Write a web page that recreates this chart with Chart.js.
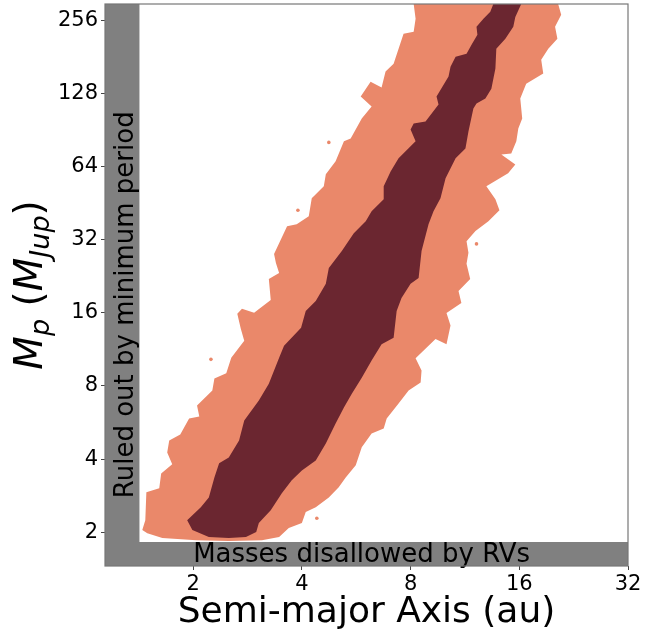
<!DOCTYPE html>
<html>
<head>
<meta charset="utf-8">
<script src="https://cdn.jsdelivr.net/npm/chart.js@4.4.0/dist/chart.umd.min.js"></script>
<style>
  html,body{margin:0;padding:0;background:#fff}
  #wrap{width:668px;height:633px}
</style>
</head>
<body>
<div id="wrap"><canvas id="c" width="668" height="633"></canvas></div>
<script>
// ---------- DATA ----------
const xTicks = [2, 4, 8, 16, 32];
const yTicks = [2, 4, 8, 16, 32, 64, 128, 256];
const xRange = [1.14, 32];
const yRange = [1.45, 300];

// outer (2-sigma) contour: semi-major axis (au) / mass (M_Jup), walked round the outline
const outerA = [1.446,1.474,1.484,1.611,1.631,1.75,1.695,1.717,1.842,1.949,2.08,2.05,2.26,2.29,2.47,2.55,2.77,2.71,2.65,2.73,
  2.95,3.28,3.24,3.46,3.39,3.35,3.64,3.87,4.18,4.26,4.6,4.66,4.96,5.23,5.46,5.86,6.24,5.82,6.2,6.65,6.82,7.18,7.65,8.16,8.26,8.16,
  20.5,20.9,20.1,20.4,19.25,18.4,18.64,16.72,16.1,16.3,15.9,15.7,15.2,14.27,15.6,14.9,12.97,13.74,14.1,13.14,12.1,11.43,11.57,11.43,
  11.7,10.86,11.06,10.06,10.32,10.06,9.38,8.26,8.58,8.53,7.9,7.41,6.87,6.74,6.24,5.86,5.64,5.29,5.06,4.75,4.37,4.1,4.0,3.68,3.46,3.1,
  2.51,2.04,1.643,1.493];
const outerM = [2.04,2.24,2.92,3.03,3.49,3.81,4.26,4.77,5.05,5.88,5.99,6.65,7.66,8.58,9.02,10.46,12.29,13.77,15.87,16.64,
  16.01,18.11,22.08,23.38,25.7,27.97,36.46,37.15,40.07,47.5,53.2,59.6,67.4,81.5,83.8,101.3,113.4,124.7,143.6,135.8,158,170.3,226.2,230.6,260.7,300,
  300,270.8,241.7,215.7,196.3,176.9,155,140.9,122.4,101.3,92.1,81.5,72.7,72,65.5,60.2,53.2,47.1,42.4,38.2,34.8,31.6,28.3,25.5,
  22.1,19.7,17.6,16,14.2,11.9,12.5,10.4,9.26,8.26,7.66,6.77,5.88,5.35,5.1,4.47,3.77,3.36,3.06,2.78,2.53,2.42,2.18,2.08,1.91,1.85,
  1.84,1.85,1.89,1.98];

// inner (1-sigma) contour
const innerA = [1.925,2.10,2.21,2.29,2.36,2.51,2.68,2.77,3.04,3.24,3.46,3.57,3.98,4.10,4.37,4.66,4.75,5.16,5.57,6.01,6.24,6.74,6.74,7.05,
  7.41,8.26,8.0,8.16,8.8,9.56,9.44,10.19,10.32,10.66,11.43,11.8,12.25,12.18,12.73,13.3,13.56,
  16.2,15.6,15.4,14.64,13.82,13.74,13.39,12.89,12.18,11.94,11.57,11.35,10.66,10.0,9.68,9.26,8.97,8.58,8.42,8.0,7.55,7.32,7.18,6.65,
  6.24,5.86,5.5,5.23,4.96,4.66,4.37,4.0,3.75,3.52,3.28,3.04,2.99,2.80,2.51,2.21,1.99];
const innerM = [2.24,2.53,2.78,3.36,3.84,4.06,4.77,5.77,6.97,8.18,10.46,11.72,13.9,16.3,17.9,21.1,24.5,28.8,34.1,38.2,42.0,47.1,53.2,61.3,
  69.4,81.5,91.3,96.6,98.4,115.6,124.7,150.7,165.5,182,187.3,203.8,224.1,241.7,260.7,278.5,300,
  300,265.5,241.7,215.7,196.3,162.5,134.4,122.4,116.7,111.3,89.5,76.2,69.4,57.4,47.5,42.0,37.15,28.8,22.3,21.1,18.45,16.3,12.64,11.9,
  10.18,8.66,7.44,6.52,5.61,4.64,3.95,3.59,3.27,2.89,2.46,2.18,2.0,1.91,1.89,1.91,2.04];

// stray little islands of the outer level
const speckA = [2.24, 3.9, 4.75, 12.18, 4.4];
const speckM = [10.3, 42.4, 80.7, 30.8, 2.28];

// excluded regions
const periodBandA = [1.14, 1.42, 1.42, 1.14];
const periodBandM = [1.45, 1.45, 300, 300];
const rvBandA = [1.14, 32, 32, 1.14];
const rvBandM = [1.45, 1.45, 1.82, 1.82];

const DARK = '#6b2630', SALMON = '#ea886a', GREY = '#808080';
const FONT = '"DejaVu Sans"';

const pts = (A, M) => A.map((a, i) => ({x: a, y: M[i]}));
const shape = (A, M, color) => ({
  data: pts(A, M), showLine: true, fill: 'shape', backgroundColor: color,
  borderColor: 'rgba(0,0,0,0)', borderWidth: 0, pointRadius: 0, tension: 0
});

// ---------- texts + frame ----------
const decor = {
  id: 'decor',
  afterDatasetsDraw(chart) {
    const {ctx, chartArea: ca, scales: {x, y}} = chart;
    ctx.save();
    ctx.fillStyle = '#000';
    ctx.font = '26px ' + FONT;
    ctx.textAlign = 'left';
    ctx.textBaseline = 'alphabetic';
    ctx.fillText('Masses disallowed by RVs', x.getPixelForValue(2), y.getPixelForValue(1.5));
    ctx.save();
    ctx.translate(x.getPixelForValue(1.36), y.getPixelForValue(2.76));
    ctx.rotate(-Math.PI / 2);
    ctx.fillText('Ruled out by minimum period', 0, 0);
    ctx.restore();

    // x title
    ctx.font = '36px ' + FONT;
    ctx.textAlign = 'center';
    ctx.fillText('Semi-major Axis (au)', (ca.left + ca.right) / 2, ca.bottom + 56);

    // y title, M_p (M_Jup)
    const big = 39, sub = 27, drop = 7;
    const runs = [
      {t: 'M', f: `italic ${big}px ${FONT}`, dy: 0},
      {t: 'p', f: `italic ${sub}px ${FONT}`, dy: drop},
      {t: ' (', f: `${big}px ${FONT}`, dy: 0},
      {t: 'M', f: `italic ${big}px ${FONT}`, dy: 0},
      {t: 'Jup', f: `italic ${sub}px ${FONT}`, dy: drop},
      {t: ')', f: `${big}px ${FONT}`, dy: 0}
    ];
    let total = 0;
    runs.forEach(r => { ctx.font = r.f; r.w = ctx.measureText(r.t).width; total += r.w; });
    ctx.translate(42, (ca.top + ca.bottom) / 2);
    ctx.rotate(-Math.PI / 2);
    ctx.textAlign = 'left';
    let px = -total / 2;
    runs.forEach(r => { ctx.font = r.f; ctx.fillText(r.t, px, r.dy); px += r.w; });
    ctx.restore();
  },
  afterDraw(chart) {
    const {ctx, chartArea: ca} = chart;
    ctx.save();
    ctx.strokeStyle = '#777';
    ctx.lineWidth = 1.2;
    ctx.strokeRect(ca.left, ca.top, ca.right - ca.left, ca.bottom - ca.top);
    ctx.restore();
  }
};

new Chart(document.getElementById('c'), {
  type: 'line',
  data: {
    datasets: [
      shape(innerA, innerM, DARK),
      {data: pts(speckA, speckM), showLine: false, pointRadius: 1.8, pointBackgroundColor: SALMON, pointBorderWidth: 0},
      shape(outerA, outerM, SALMON),
      shape(periodBandA, periodBandM, GREY),
      shape(rvBandA, rvBandM, GREY)
    ]
  },
  options: {
    responsive: false,
    devicePixelRatio: 1,
    animation: false,
    layout: {padding: {left: 0, top: 3, right: 40, bottom: 0}},
    plugins: {legend: {display: false}, tooltip: {enabled: false}},
    scales: {
      x: {
        type: 'logarithmic', min: xRange[0], max: xRange[1],
        afterBuildTicks: s => { s.ticks = xTicks.map(v => ({value: v})); },
        afterFit: s => { s.height = 67; s.paddingLeft = 0; s.paddingRight = 0; },
        ticks: {callback: v => String(v), color: '#000', font: {family: 'DejaVu Sans', size: 21}, padding: 2, maxRotation: 0, autoSkip: false},
        grid: {drawOnChartArea: false, drawTicks: true, tickLength: 4, tickColor: '#444'},
        border: {display: false}
      },
      y: {
        type: 'logarithmic', min: yRange[0], max: yRange[1],
        afterBuildTicks: s => { s.ticks = yTicks.map(v => ({value: v})); },
        afterFit: s => { s.width = 105; s.paddingTop = 0; s.paddingBottom = 0; },
        ticks: {callback: v => String(v), color: '#000', font: {family: 'DejaVu Sans', size: 21}, padding: 3, autoSkip: false},
        grid: {drawOnChartArea: false, drawTicks: true, tickLength: 4, tickColor: '#444'},
        border: {display: false}
      }
    }
  },
  plugins: [decor]
});
</script>
</body>
</html>
